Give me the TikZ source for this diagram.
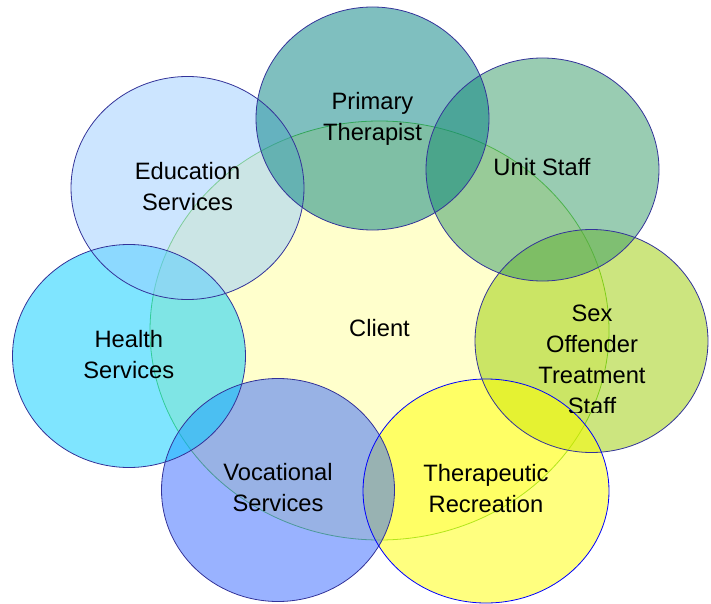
\documentclass[tikz,border=0pt]{standalone}
\usepackage{fontspec}
\setmainfont{Liberation Sans}
\usetikzlibrary{shapes.geometric}
\definecolor{clientfill}{HTML}{FFFFCC}
\definecolor{clientline}{HTML}{66CC33}
\definecolor{ringline}{HTML}{333399}
\definecolor{cPrim}{HTML}{008080}
\definecolor{cUnit}{HTML}{339966}
\definecolor{cSex}{HTML}{99CC00}
\definecolor{cRec}{HTML}{FFFF00}
\definecolor{cVoc}{HTML}{3366FF}
\definecolor{cHealth}{HTML}{00CCFF}
\definecolor{cEdu}{HTML}{99CCFF}
\tikzset{
  ring/.style={ellipse, fill opacity=0.5,
    inner sep=0pt, minimum width=233pt, minimum height=223pt},
  rim/.style={draw=ringline, line width=0.8pt},
  lbl/.style={align=center, inner sep=0pt, font=\fontsize{23.7}{31}\selectfont, text=black}
}
\begin{document}
\begin{tikzpicture}[x=1pt,y=-1pt]
\useasboundingbox (0,0) rectangle (711,604);
% central client ellipse
\node[ellipse, draw=clientline, line width=0.8pt, fill=clientfill, inner sep=0pt,
      minimum width=459pt, minimum height=419pt] (client) at (379.5,330.5) {};
% surrounding rings (fills, in stacking order)
\node[ring, fill=cSex] (sex) at (591.5,341) {};
\node[ring, fill=cUnit] (unit) at (542.5,169.5) {};
\node[ring, fill=cRec, minimum width=246pt, minimum height=224pt] (rec) at (486,491) {};
\node[ring, fill=cVoc] (voc) at (278,490) {};
\node[ring, fill=cHealth] (health) at (129,356) {};
\node[ring, fill=cEdu] (edu) at (187.5,188) {};
\node[ring, fill=cPrim] (prim) at (372.5,118.5) {};
% outlines on top
\foreach \n in {sex,unit,voc,health,edu,prim}
  \draw[rim] (\n.center) ellipse [x radius=116.5, y radius=111.5];
\draw[rim, draw=blue] (rec.center) ellipse [x radius=123, y radius=112];
% labels
\node[lbl] (client-t) at (379.5,328.3) {Client};
\node[lbl] (edu-t) at (187.5,186.2) {Education\\Services};
\node[lbl] (health-t) at (128.8,355) {Health\\Services};
\node[lbl] (voc-t) at (278,487.8) {Vocational\\Services};
\node[lbl] (prim-t) at (372.5,118.8) {Primary\\Therapist};
\node[lbl] (unit-t) at (542,167.4) {Unit Staff};
\node[lbl] (rec-t) at (486,489) {Therapeutic\\Recreation};
\begin{scope}
  \clip (470,290) rectangle (711,412.5);
  \node[lbl] (sex-t) at (592,360.2) {Sex\\Offender\\Treatment\\Staff};
\end{scope}
\end{tikzpicture}
\end{document}
